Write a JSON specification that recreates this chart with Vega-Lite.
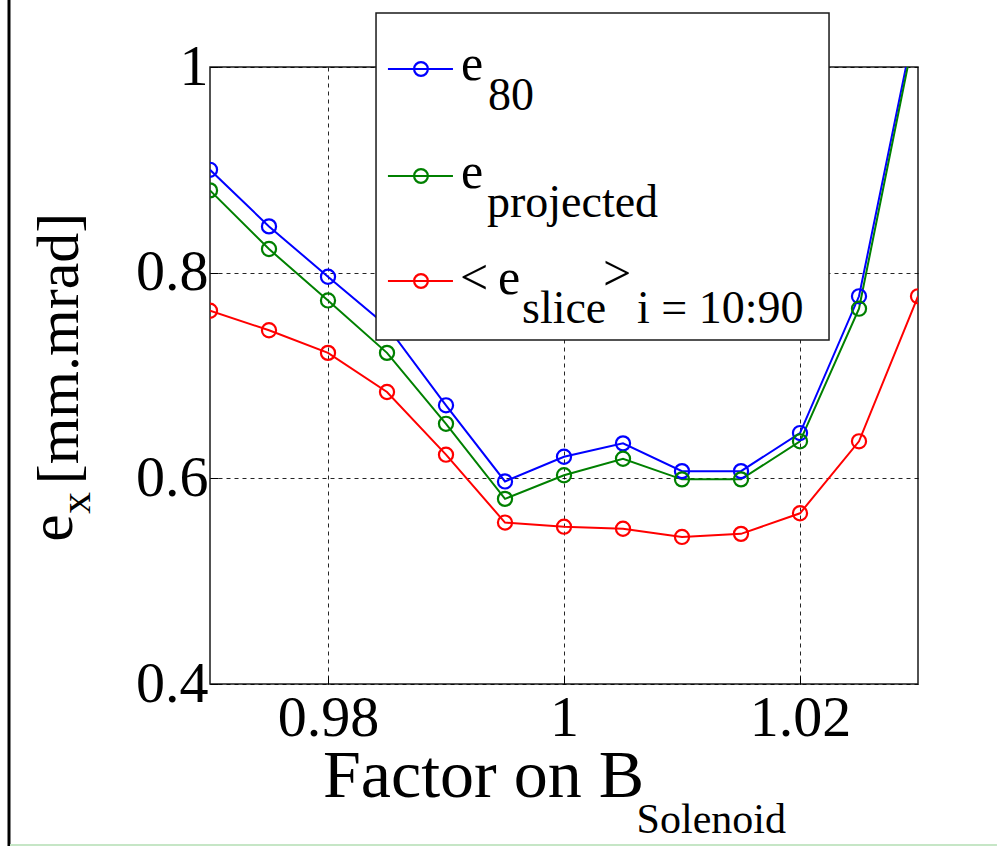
{
  "$schema": "https://vega.github.io/schema/vega-lite/v6.json",
  "width": 708,
  "height": 617,
  "autosize": {"type": "none"},
  "padding": {"left": 210, "top": 67, "right": 79, "bottom": 162},
  "background": "white",
  "config": {
    "view": {"stroke": "#1a1a1a", "strokeWidth": 1.5},
    "axis": {
      "domain": false,
      "grid": true,
      "gridColor": "#000000",
      "gridDash": [4, 4],
      "gridWidth": 1,
      "gridOpacity": 0.85,
      "tickColor": "#000000",
      "tickSize": -8,
      "tickWidth": 1,
      "labelFont": "Liberation Serif",
      "labelFontSize": 58,
      "labelColor": "#000000"
    }
  },
  "datasets": {
    "emittance": [
      {"factor": 0.970, "series": "eps_80", "emittance": 0.900},
      {"factor": 0.975, "series": "eps_80", "emittance": 0.845},
      {"factor": 0.980, "series": "eps_80", "emittance": 0.796},
      {"factor": 0.985, "series": "eps_80", "emittance": 0.748},
      {"factor": 0.990, "series": "eps_80", "emittance": 0.671},
      {"factor": 0.995, "series": "eps_80", "emittance": 0.597},
      {"factor": 1.000, "series": "eps_80", "emittance": 0.621},
      {"factor": 1.005, "series": "eps_80", "emittance": 0.634},
      {"factor": 1.010, "series": "eps_80", "emittance": 0.607},
      {"factor": 1.015, "series": "eps_80", "emittance": 0.607},
      {"factor": 1.020, "series": "eps_80", "emittance": 0.644},
      {"factor": 1.025, "series": "eps_80", "emittance": 0.777},
      {"factor": 1.030, "series": "eps_80", "emittance": 1.057},
      {"factor": 0.970, "series": "eps_projected", "emittance": 0.880},
      {"factor": 0.975, "series": "eps_projected", "emittance": 0.823},
      {"factor": 0.980, "series": "eps_projected", "emittance": 0.773},
      {"factor": 0.985, "series": "eps_projected", "emittance": 0.722},
      {"factor": 0.990, "series": "eps_projected", "emittance": 0.653},
      {"factor": 0.995, "series": "eps_projected", "emittance": 0.580},
      {"factor": 1.000, "series": "eps_projected", "emittance": 0.603},
      {"factor": 1.005, "series": "eps_projected", "emittance": 0.619},
      {"factor": 1.010, "series": "eps_projected", "emittance": 0.599},
      {"factor": 1.015, "series": "eps_projected", "emittance": 0.599},
      {"factor": 1.020, "series": "eps_projected", "emittance": 0.636},
      {"factor": 1.025, "series": "eps_projected", "emittance": 0.765},
      {"factor": 1.030, "series": "eps_projected", "emittance": 1.050},
      {"factor": 0.970, "series": "eps_slice_mean", "emittance": 0.763},
      {"factor": 0.975, "series": "eps_slice_mean", "emittance": 0.744},
      {"factor": 0.980, "series": "eps_slice_mean", "emittance": 0.722},
      {"factor": 0.985, "series": "eps_slice_mean", "emittance": 0.684},
      {"factor": 0.990, "series": "eps_slice_mean", "emittance": 0.623},
      {"factor": 0.995, "series": "eps_slice_mean", "emittance": 0.557},
      {"factor": 1.000, "series": "eps_slice_mean", "emittance": 0.553},
      {"factor": 1.005, "series": "eps_slice_mean", "emittance": 0.551},
      {"factor": 1.010, "series": "eps_slice_mean", "emittance": 0.543},
      {"factor": 1.015, "series": "eps_slice_mean", "emittance": 0.546},
      {"factor": 1.020, "series": "eps_slice_mean", "emittance": 0.566},
      {"factor": 1.025, "series": "eps_slice_mean", "emittance": 0.636},
      {"factor": 1.030, "series": "eps_slice_mean", "emittance": 0.777}
    ]
  },
  "layer": [
    {
      "data": {"name": "emittance"},
      "mark": {"type": "line", "strokeWidth": 2, "clip": true},
      "encoding": {
        "x": {
          "field": "factor", "type": "quantitative",
          "scale": {"domain": [0.97, 1.03], "nice": false, "zero": false},
          "axis": {"values": [0.98, 1, 1.02], "format": "~g", "title": null, "labelPadding": 13}
        },
        "y": {
          "field": "emittance", "type": "quantitative",
          "scale": {"domain": [0.4, 1], "nice": false, "zero": false},
          "axis": {"values": [0.4, 0.6, 0.8, 1], "format": "~g", "title": null, "labelPadding": 10}
        },
        "color": {
          "field": "series", "type": "nominal",
          "scale": {"domain": ["eps_80", "eps_projected", "eps_slice_mean"], "range": ["#0000ff", "#008000", "#ff0000"]},
          "legend": null
        }
      }
    },
    {
      "data": {"name": "emittance"},
      "mark": {"type": "point", "shape": "circle", "filled": false, "size": 200, "strokeWidth": 2.2, "clip": true, "opacity": 1},
      "encoding": {
        "x": {"field": "factor", "type": "quantitative"},
        "y": {"field": "emittance", "type": "quantitative"},
        "color": {"field": "series", "type": "nominal", "legend": null}
      }
    },
    {
      "data": {"values": [{}]},
      "mark": {"type": "rect", "fill": "white", "stroke": "#1a1a1a", "strokeWidth": 1.5, "clip": false},
      "encoding": {
        "x": {"datum": 0.98407, "type": "quantitative"},
        "x2": {"datum": 1.02246},
        "y": {"datum": 1.05251, "type": "quantitative"},
        "y2": {"datum": 0.73452}
      }
    },
    {
      "data": {"values": [{}]},
      "mark": {"type": "rule", "stroke": "#0000ff", "strokeWidth": 2.2, "clip": false},
      "encoding": {
        "x": {"datum": 0.98508, "type": "quantitative"}, "x2": {"datum": 0.99059},
        "y": {"datum": 0.99806, "type": "quantitative"}
      }
    },
    {
      "data": {"values": [{}]},
      "mark": {"type": "rule", "stroke": "#008000", "strokeWidth": 2.2, "clip": false},
      "encoding": {
        "x": {"datum": 0.98508, "type": "quantitative"}, "x2": {"datum": 0.99059},
        "y": {"datum": 0.894, "type": "quantitative"}
      }
    },
    {
      "data": {"values": [{}]},
      "mark": {"type": "rule", "stroke": "#ff0000", "strokeWidth": 2.2, "clip": false},
      "encoding": {
        "x": {"datum": 0.98508, "type": "quantitative"}, "x2": {"datum": 0.99059},
        "y": {"datum": 0.7919, "type": "quantitative"}
      }
    },
    {
      "data": {"values": [{}]},
      "mark": {"type": "point", "shape": "circle", "filled": false, "stroke": "#0000ff", "size": 190, "strokeWidth": 2.2, "opacity": 1, "clip": false},
      "encoding": {"x": {"datum": 0.98788, "type": "quantitative"}, "y": {"datum": 0.99806, "type": "quantitative"}}
    },
    {
      "data": {"values": [{}]},
      "mark": {"type": "point", "shape": "circle", "filled": false, "stroke": "#008000", "size": 190, "strokeWidth": 2.2, "opacity": 1, "clip": false},
      "encoding": {"x": {"datum": 0.98788, "type": "quantitative"}, "y": {"datum": 0.894, "type": "quantitative"}}
    },
    {
      "data": {"values": [{}]},
      "mark": {"type": "point", "shape": "circle", "filled": false, "stroke": "#ff0000", "size": 190, "strokeWidth": 2.2, "opacity": 1, "clip": false},
      "encoding": {"x": {"datum": 0.98788, "type": "quantitative"}, "y": {"datum": 0.7919, "type": "quantitative"}}
    },
    {
      "data": {"values": [{}]},
      "mark": {"type": "text", "text": "e", "font": "Liberation Serif", "fontSize": 50, "align": "left", "clip": false},
      "encoding": {"x": {"datum": 0.99127, "type": "quantitative"}, "y": {"datum": 1.001947, "type": "quantitative"}}
    },
    {
      "data": {"values": [{}]},
      "mark": {"type": "text", "text": "80", "font": "Liberation Serif", "fontSize": 46, "align": "left", "clip": false},
      "encoding": {"x": {"datum": 0.99356, "type": "quantitative"}, "y": {"datum": 0.971794, "type": "quantitative"}}
    },
    {
      "data": {"values": [{}]},
      "mark": {"type": "text", "text": "e", "font": "Liberation Serif", "fontSize": 50, "align": "left", "clip": false},
      "encoding": {"x": {"datum": 0.99127, "type": "quantitative"}, "y": {"datum": 0.896917, "type": "quantitative"}}
    },
    {
      "data": {"values": [{}]},
      "mark": {"type": "text", "text": "projected", "font": "Liberation Serif", "fontSize": 46, "align": "left", "clip": false},
      "encoding": {"x": {"datum": 0.99347, "type": "quantitative"}, "y": {"datum": 0.867744, "type": "quantitative"}}
    },
    {
      "data": {"values": [{}]},
      "mark": {"type": "text", "text": "<", "font": "Liberation Serif", "fontSize": 50, "align": "left", "clip": false},
      "encoding": {"x": {"datum": 0.99119, "type": "quantitative"}, "y": {"datum": 0.793837, "type": "quantitative"}}
    },
    {
      "data": {"values": [{}]},
      "mark": {"type": "text", "text": "e", "font": "Liberation Serif", "fontSize": 50, "align": "left", "clip": false},
      "encoding": {"x": {"datum": 0.99441, "type": "quantitative"}, "y": {"datum": 0.793837, "type": "quantitative"}}
    },
    {
      "data": {"values": [{}]},
      "mark": {"type": "text", "text": "slice", "font": "Liberation Serif", "fontSize": 46, "align": "left", "clip": false},
      "encoding": {"x": {"datum": 0.99644, "type": "quantitative"}, "y": {"datum": 0.764664, "type": "quantitative"}}
    },
    {
      "data": {"values": [{}]},
      "mark": {"type": "text", "text": ">", "font": "Liberation Serif", "fontSize": 50, "align": "left", "clip": false},
      "encoding": {"x": {"datum": 1.00331, "type": "quantitative"}, "y": {"datum": 0.797727, "type": "quantitative"}}
    },
    {
      "data": {"values": [{}]},
      "mark": {"type": "text", "text": "i = 10:90", "font": "Liberation Serif", "fontSize": 46, "align": "left", "clip": false},
      "encoding": {"x": {"datum": 1.00619, "type": "quantitative"}, "y": {"datum": 0.764664, "type": "quantitative"}}
    },
    {
      "data": {"values": [{}]},
      "mark": {"type": "text", "text": "Factor on B", "font": "Liberation Serif", "fontSize": 68, "align": "left", "clip": false},
      "encoding": {"x": {"datum": 0.97958, "type": "quantitative"}, "y": {"datum": 0.309559, "type": "quantitative"}}
    },
    {
      "data": {"values": [{}]},
      "mark": {"type": "text", "text": "Solenoid", "font": "Liberation Serif", "fontSize": 42, "align": "right", "clip": false},
      "encoding": {"x": {"datum": 1.01881, "type": "quantitative"}, "y": {"datum": 0.267742, "type": "quantitative"}}
    },
    {
      "data": {"values": [{}]},
      "mark": {"type": "text", "text": "[mm.mrad]", "font": "Liberation Serif", "fontSize": 60, "angle": 270, "align": "center", "clip": false},
      "encoding": {"x": {"datum": 0.957289, "type": "quantitative"}, "y": {"datum": 0.72625, "type": "quantitative"}}
    },
    {
      "data": {"values": [{}]},
      "mark": {"type": "text", "text": "e", "font": "Liberation Serif", "fontSize": 62, "angle": 270, "align": "center", "clip": false},
      "encoding": {"x": {"datum": 0.956695, "type": "quantitative"}, "y": {"datum": 0.5517, "type": "quantitative"}}
    },
    {
      "data": {"values": [{}]},
      "mark": {"type": "text", "text": "x", "font": "Liberation Serif", "fontSize": 44, "angle": 270, "align": "center", "clip": false},
      "encoding": {"x": {"datum": 0.95873, "type": "quantitative"}, "y": {"datum": 0.57601, "type": "quantitative"}}
    },
    {
      "data": {"values": [{}]},
      "mark": {"type": "rule", "stroke": "#000000", "strokeWidth": 3, "clip": false},
      "encoding": {
        "x": {"datum": 0.952966, "type": "quantitative"},
        "y": {"datum": 1.06515, "type": "quantitative"}, "y2": {"datum": 0.24245}
      }
    },
    {
      "data": {"values": [{}]},
      "mark": {"type": "rule", "stroke": "#c6e6c6", "strokeWidth": 2, "clip": false},
      "encoding": {
        "x": {"datum": 0.95305, "type": "quantitative"}, "x2": {"datum": 1.03669},
        "y": {"datum": 0.24344, "type": "quantitative"}
      }
    }
  ]
}
